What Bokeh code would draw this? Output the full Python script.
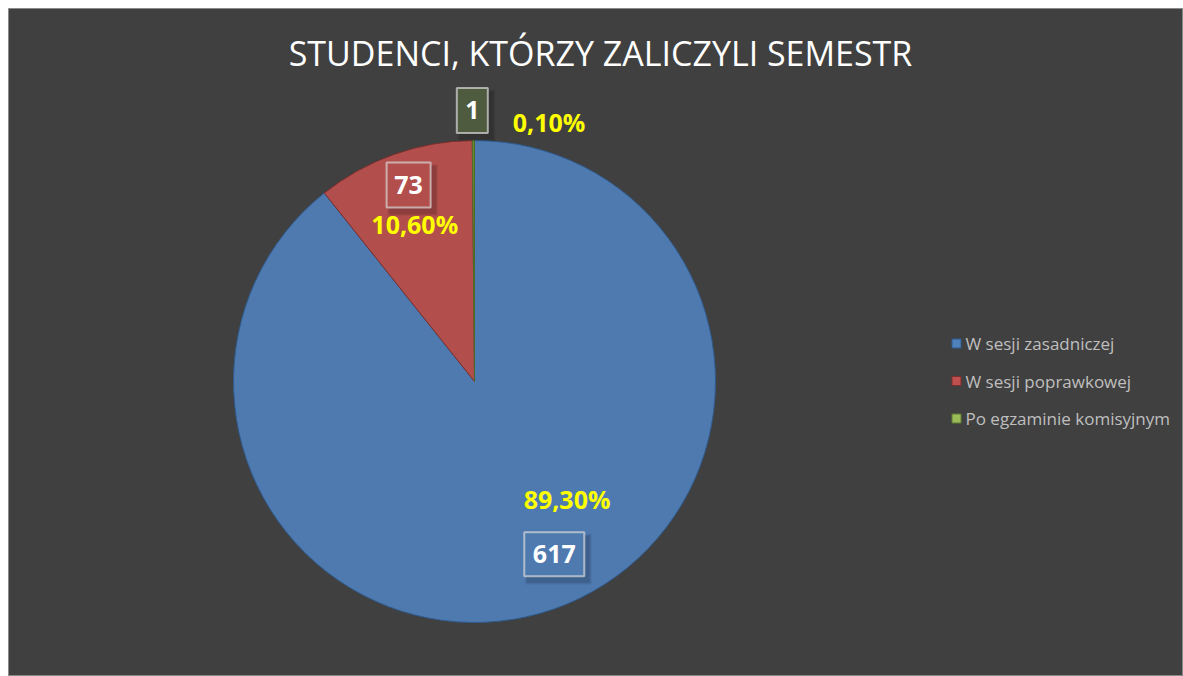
import math
from bokeh.plotting import figure
from bokeh.models import Range1d, ColumnDataSource
from bokeh.core.properties import value
from bokeh.embed import file_html
from bokeh.resources import INLINE

# ---- data ----
title_text = "STUDENCI, KTÓRZY ZALICZYLI SEMESTR"
categories = ["W sesji zasadniczej", "W sesji poprawkowej", "Po egzaminie komisyjnym"]
counts = [617, 73, 1]
percent_labels = ["89,30%", "10,60%", "0,10%"]

# ---- style ----
slice_colors = ["#4E7AB0", "#B24F4C", "#6A8A3A"]
slice_edges = ["#2F5B8E", "#7A2F2E", "#4E6A28"]
legend_colors = ["#4F81BD", "#C0504D", "#9BBB59"]
legend_edges = ["#2F5B8E", "#7A2F2E", "#5E7A32"]
box_fills = [None, None, "#4F5B3E"]
BG = "#404040"

PAD = 8
W, H = 1175, 668
# data coordinates: x 0..W, y 0..H (y up); mapped from screen pixels
def sy(screen_y):
    return H - (screen_y - PAD)
def sx(screen_x):
    return screen_x - PAD

CX, CY, R = sx(474), sy(381), 241

p = figure(width=W + PAD, height=H + PAD, output_backend="svg", toolbar_location=None,
           x_range=Range1d(0, W), y_range=Range1d(0, H),
           min_border=0, min_border_left=PAD, min_border_right=0,
           min_border_top=PAD, min_border_bottom=0)
p.axis.visible = False
p.grid.visible = False
p.background_fill_color = BG
p.border_fill_color = "white"
p.outline_line_color = "#8A8A8A"
p.outline_line_width = 1

# ---- pie ----
total = sum(counts)
fracs = [c / total for c in counts]
starts, ends, mids = [], [], []
acc = 0.0
for f in fracs:
    starts.append(math.pi / 2 - 2 * math.pi * acc)
    mids.append(math.pi / 2 - 2 * math.pi * (acc + f / 2))
    acc += f
    ends.append(math.pi / 2 - 2 * math.pi * acc)

src = ColumnDataSource(dict(start=starts, end=ends, color=slice_colors, edge=slice_edges))
p.wedge(x=CX, y=CY, radius=R, start_angle="start", end_angle="end", direction="clock",
        fill_color="color", line_color="edge", line_width=1, source=src)

# ---- labels (placed relative to each slice's mid-angle) ----
# (radius factor, angle tweak in degrees clockwise) for value box and percent label
value_pos = [(0.79, -5.5), (0.86, 1.0), (1.125, -0.2)]
pct_pos = [(0.62, -19.0), (0.70, -1.2), (1.12, 16.3)]
box_sizes = [(60, 44), (44, 45), (31, 45)]

def polar(mid, rf, tweak_deg):
    a = mid - math.radians(tweak_deg)
    return CX + rf * R * math.cos(a), CY + rf * R * math.sin(a)

for i in range(len(counts)):
    vx, vy = polar(mids[i], *value_pos[i])
    bw, bh = box_sizes[i]
    # soft shadow
    for k, al in ((7, 0.05), (5, 0.07), (3, 0.09)):
        p.rect(x=vx + 4, y=vy - 5, width=bw + k, height=bh + k, fill_color="black",
               fill_alpha=al, line_color=None)
    p.rect(x=vx, y=vy, width=bw, height=bh,
           fill_color=box_fills[i] if box_fills[i] else slice_colors[i],
           fill_alpha=1.0, line_color="#D8D8D8", line_alpha=0.7, line_width=2)
    p.text(x=[vx], y=[vy], text=[str(counts[i])], text_color="white",
           text_font=value("Open Sans"), text_font_style="bold", text_font_size="25px",
           text_align="center", text_baseline="middle")
    px, py = polar(mids[i], *pct_pos[i])
    p.text(x=[px], y=[py], text=[percent_labels[i]], text_color="#FFFF00",
           text_font=value("Open Sans"), text_font_style="bold", text_font_size="25px",
           text_align="center", text_baseline="middle")

# ---- title ----
p.text(x=[sx(600)], y=[sy(52)], text=[title_text], text_color="white",
       text_font=value("Open Sans"), text_font_size="34px",
       text_align="center", text_baseline="middle")

# ---- legend ----
leg_x, leg_y0, leg_dy = sx(956), sy(343), 37.5
for i, name in enumerate(categories):
    ly = leg_y0 - i * leg_dy
    p.rect(x=leg_x, y=ly, width=9, height=9, fill_color=legend_colors[i],
           line_color=legend_edges[i], line_width=1)
    p.text(x=[leg_x + 9], y=[ly], text=[name], text_color="#BFBFBF",
           text_font=value("Open Sans"), text_font_size="17px",
           text_align="left", text_baseline="middle")

open("out.html", "w").write(file_html(p, INLINE))
